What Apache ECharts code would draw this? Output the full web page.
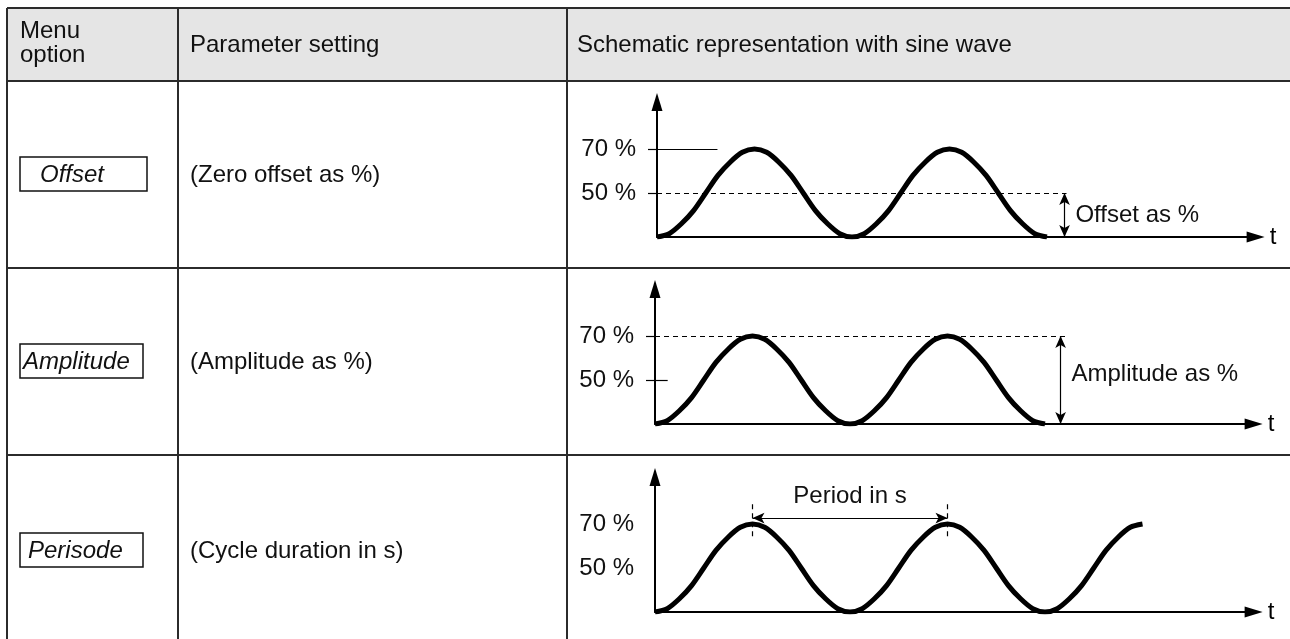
<!DOCTYPE html>
<html><head><meta charset="utf-8">
<script src="https://cdn.jsdelivr.net/npm/echarts@6/dist/echarts.min.js"></script>
<style>html,body{margin:0;padding:0;background:#fff}#c{width:1290px;height:639px}</style>
</head><body><div id="c"></div>
<script>
// ---- data ----
const headers = ['Menu\noption', 'Parameter setting', 'Schematic representation with sine wave'];
const menuOptions = ['Offset', 'Amplitude', 'Perisode'];
const parameterSettings = ['(Zero offset as %)', '(Amplitude as %)', '(Cycle duration in s)'];
const yTickValues = [50, 70];
const timeTwoPeriods = [0, 0.0625, 0.125, 0.1875, 0.25, 0.3125, 0.375, 0.4375, 0.5, 0.5625, 0.625, 0.6875, 0.75, 0.8125, 0.875, 0.9375,
  1, 1.0625, 1.125, 1.1875, 1.25, 1.3125, 1.375, 1.4375, 1.5, 1.5625, 1.625, 1.6875, 1.75, 1.8125, 1.875, 1.9375, 2];
const waveTwoPeriods = [30, 31.5, 36, 42, 50, 58, 64, 68.5, 70, 68.5, 64, 58, 50, 42, 36, 31.5,
  30, 31.5, 36, 42, 50, 58, 64, 68.5, 70, 68.5, 64, 58, 50, 42, 36, 31.5, 30];
const timeRow3 = [0, 0.0625, 0.125, 0.1875, 0.25, 0.3125, 0.375, 0.4375, 0.5, 0.5625, 0.625, 0.6875, 0.75, 0.8125, 0.875, 0.9375,
  1, 1.0625, 1.125, 1.1875, 1.25, 1.3125, 1.375, 1.4375, 1.5, 1.5625, 1.625, 1.6875, 1.75, 1.8125, 1.875, 1.9375,
  2, 2.0625, 2.125, 2.1875, 2.25, 2.3125, 2.375, 2.4375, 2.5];
const waveRow3 = [30, 31.5, 36, 42, 50, 58, 64, 68.5, 70, 68.5, 64, 58, 50, 42, 36, 31.5,
  30, 31.5, 36, 42, 50, 58, 64, 68.5, 70, 68.5, 64, 58, 50, 42, 36, 31.5,
  30, 31.5, 36, 42, 50, 58, 64, 68.5, 70];
const annotationTexts = ['Offset as %', 'Amplitude as %', 'Period in s'];
const offsetLevel = 50, amplitudeLevel = 70, baseLevel = 30;
const periodStart = 0.5, periodEnd = 1.5;

// ---- layout ----
const FONT = '"Liberation Sans", Arial, Helvetica, sans-serif';
const FS = 24;
const TL = 7, TR = 1290, TT = 8;
const rowLines = [81, 268, 455];
const colLines = [7, 178, 567];
const rowCenters = [174, 361, 550];
const axisX = [657, 655, 655];
const baseY = [237, 424, 612];
const PX_PER_PERIOD = 195, PX_PER_UNIT = 2.2;
const Y_MAX = 91.4, X_MAX = 3.07;

const chart = echarts.init(document.getElementById('c'), null, {renderer: 'canvas'});

const graphics = [];
graphics.push({type: 'rect', shape: {x: TL, y: TT, width: TR - TL, height: rowLines[0] - TT}, style: {fill: '#e5e5e5'}, z: -10});
[TT].concat(rowLines).forEach(y => graphics.push({type: 'line', shape: {x1: TL, y1: y, x2: TR, y2: y}, style: {stroke: '#2b2b2b', lineWidth: 2}}));
colLines.forEach(x => graphics.push({type: 'line', shape: {x1: x, y1: TT, x2: x, y2: 639}, style: {stroke: '#2b2b2b', lineWidth: 2}}));
graphics.push({type: 'text', x: 20, y: 43, style: {text: headers[0], font: FS + 'px ' + FONT, fill: '#111', verticalAlign: 'middle', lineHeight: 24}});
graphics.push({type: 'text', x: 190, y: 45, style: {text: headers[1], font: FS + 'px ' + FONT, fill: '#111', verticalAlign: 'middle'}});
graphics.push({type: 'text', x: 577, y: 45, style: {text: headers[2], font: FS + 'px ' + FONT, fill: '#111', verticalAlign: 'middle'}});
const boxW = [127, 123, 123];
const labelX = [40, 23, 28];
menuOptions.forEach((m, i) => {
  const cy = rowCenters[i];
  graphics.push({type: 'rect', shape: {x: 20, y: cy - 17, width: boxW[i], height: 34}, style: {fill: 'none', stroke: '#111', lineWidth: 1.5}});
  graphics.push({type: 'text', x: labelX[i], y: cy + 1, style: {text: m, font: 'italic ' + FS + 'px ' + FONT, fill: '#111', verticalAlign: 'middle'}});
  graphics.push({type: 'text', x: 190, y: cy + 1, style: {text: parameterSettings[i], font: FS + 'px ' + FONT, fill: '#111', verticalAlign: 'middle'}});
});

const grids = [], xAxes = [], yAxes = [], series = [];
const tickShow = [true, true, false];
for (let i = 0; i < 3; i++) {
  const h = (Y_MAX - baseLevel) * PX_PER_UNIT;
  grids.push({left: axisX[i], top: baseY[i] - h, width: X_MAX * PX_PER_PERIOD, height: h, containLabel: false});
  xAxes.push({
    type: 'value', gridIndex: i, min: 0, max: X_MAX,
    axisLine: {show: true, lineStyle: {color: '#000', width: 2}, symbol: ['none', 'triangle'], symbolSize: [11, 18]},
    axisTick: {show: false}, axisLabel: {show: false}, splitLine: {show: false},
    name: 't', nameLocation: 'end', nameGap: 14,
    nameTextStyle: {fontSize: FS, fontFamily: FONT, color: '#000', verticalAlign: 'middle'}
  });
  yAxes.push({
    type: 'value', gridIndex: i, min: baseLevel, max: Y_MAX,
    axisLine: {show: true, lineStyle: {color: '#000', width: 2}, symbol: ['none', 'triangle'], symbolSize: [11, 18]},
    axisTick: {show: tickShow[i], customValues: yTickValues, length: 9, lineStyle: {color: '#000', width: 1.2}},
    axisLabel: {show: true, customValues: yTickValues, formatter: v => v + ' %', fontSize: FS, fontFamily: FONT, color: '#111', margin: 21},
    splitLine: {show: false}
  });
}
const plain = {show: false};
const thin = (type) => ({type: type, width: 1.2, color: '#000'});
const arrowEnd = {symbol: 'arrow', symbolSize: [8, 12]};
// Row 1
series.push({
  type: 'line', xAxisIndex: 0, yAxisIndex: 0, data: timeTwoPeriods.map((t, k) => [t, waveTwoPeriods[k]]),
  smooth: 0.3, showSymbol: false, lineStyle: {color: '#000', width: 5}, silent: true,
  markLine: {silent: true, symbol: 'none', label: plain, animation: false, data: [
    [{coord: [0, amplitudeLevel], lineStyle: thin('solid')}, {coord: [0.31, amplitudeLevel]}],
    [{coord: [0, offsetLevel], lineStyle: thin([5, 4])}, {coord: [2.1, offsetLevel]}],
    [Object.assign({coord: [2.09, offsetLevel], lineStyle: thin('solid')}, arrowEnd), Object.assign({coord: [2.09, baseLevel]}, arrowEnd)]
  ]},
  markPoint: {silent: true, symbol: 'circle', symbolSize: 0, animation: false, data: [
    {coord: [2.12, 40], label: {show: true, position: 'right', distance: 5, formatter: annotationTexts[0], fontSize: FS, fontFamily: FONT, color: '#111'}}
  ]}
});
// Row 2
series.push({
  type: 'line', xAxisIndex: 1, yAxisIndex: 1, data: timeTwoPeriods.map((t, k) => [t, waveTwoPeriods[k]]),
  smooth: 0.3, showSymbol: false, lineStyle: {color: '#000', width: 5}, silent: true,
  markLine: {silent: true, symbol: 'none', label: plain, animation: false, data: [
    [{coord: [0, amplitudeLevel], lineStyle: thin([5, 4])}, {coord: [2.12, amplitudeLevel]}],
    [{coord: [0, offsetLevel], lineStyle: thin('solid')}, {coord: [0.065, offsetLevel]}],
    [Object.assign({coord: [2.08, amplitudeLevel], lineStyle: thin('solid')}, arrowEnd), Object.assign({coord: [2.08, baseLevel]}, arrowEnd)]
  ]},
  markPoint: {silent: true, symbol: 'circle', symbolSize: 0, animation: false, data: [
    {coord: [2.11, 52.5], label: {show: true, position: 'right', distance: 5, formatter: annotationTexts[1], fontSize: FS, fontFamily: FONT, color: '#111'}}
  ]}
});
// Row 3
series.push({
  type: 'line', xAxisIndex: 2, yAxisIndex: 2, data: timeRow3.map((t, k) => [t, waveRow3[k]]),
  smooth: 0.3, showSymbol: false, lineStyle: {color: '#000', width: 5}, silent: true,
  markLine: {silent: true, symbol: 'none', label: plain, animation: false, data: [
    [Object.assign({coord: [periodStart, 72.7], lineStyle: thin('solid')}, arrowEnd), Object.assign({coord: [periodEnd, 72.7]}, arrowEnd)],
    [{coord: [periodStart, 79], lineStyle: thin([5, 4])}, {coord: [periodStart, 63]}],
    [{coord: [periodEnd, 79], lineStyle: thin([5, 4])}, {coord: [periodEnd, 63]}]
  ]},
  markPoint: {silent: true, symbol: 'circle', symbolSize: 0, animation: false, data: [
    {coord: [(periodStart + periodEnd) / 2, 82.5], label: {show: true, position: 'inside', formatter: annotationTexts[2], fontSize: FS, fontFamily: FONT, color: '#111'}}
  ]}
});

chart.setOption({
  animation: false,
  backgroundColor: '#fff',
  graphic: graphics,
  grid: grids, xAxis: xAxes, yAxis: yAxes, series: series
});
</script></body></html>
